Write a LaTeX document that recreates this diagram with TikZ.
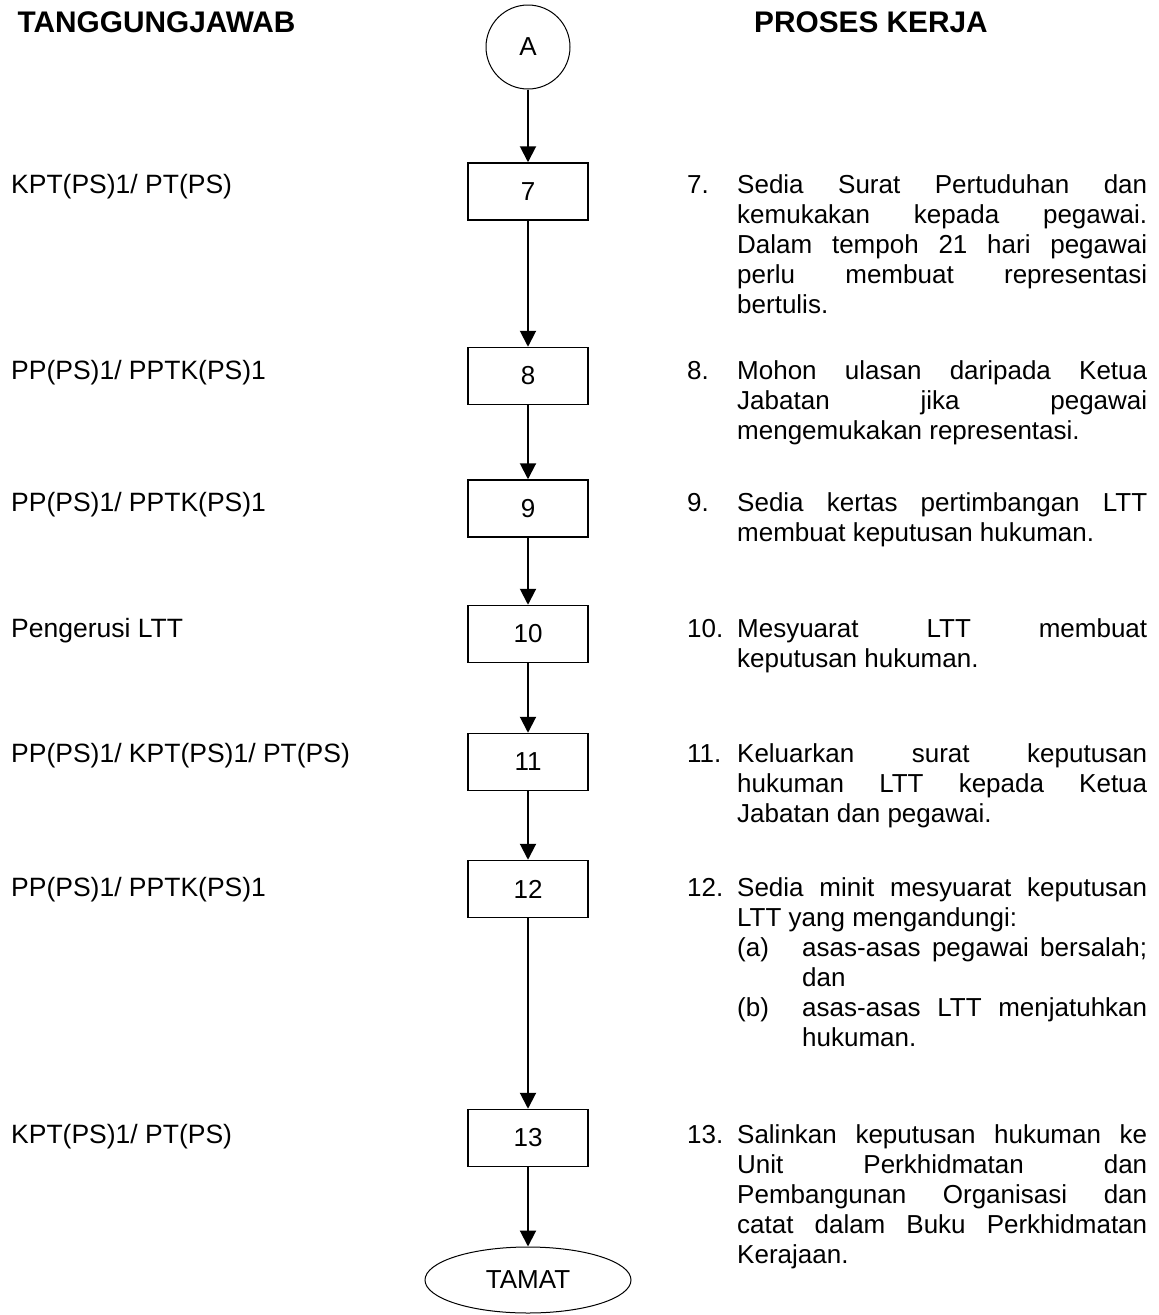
\documentclass[tikz,border=0pt]{standalone}
\usepackage{fontspec}
\setmainfont{Liberation Sans}
\usetikzlibrary{arrows.meta,shapes.geometric}

% Lines of the step descriptions: numbered first line, justified lines,
% left-aligned closing lines and lettered sub-items.
\newcommand\numline[2]{\hbox{\makebox[50pt][l]{#1}\makebox[410pt][s]{#2}}}
\newcommand\fullline[1]{\hbox{\hskip50pt\makebox[410pt][s]{#1}}}
\newcommand\lastline[1]{\hbox{\hskip50pt #1}}
\newcommand\subline[2]{\hbox{\hskip50pt\makebox[65pt][l]{#1}\makebox[345pt][s]{#2}}}
\newcommand\sublast[1]{\hbox{\hskip115pt #1}}
\newcommand\steptext[1]{\vtop{\baselineskip=30pt\lineskiplimit=-100pt\lineskip=0pt #1}}

\tikzset{
  txt/.style={font=\fontsize{26}{30}\selectfont},
  heading/.style={font=\fontsize{29.8}{34}\selectfont\bfseries, anchor=base west, inner sep=0pt},
  who/.style={font=\fontsize{26.5}{30}\selectfont, anchor=base west, inner sep=0pt},
  desc/.style={txt, anchor=base west, inner sep=0pt},
  stepbox/.style={txt, draw, line width=1.5pt, minimum width=120pt, minimum height=57pt, inner sep=0pt},
  connector/.style={txt, draw, circle, line width=1pt, minimum size=84pt, inner sep=0pt},
  terminal/.style={txt, draw, ellipse, line width=1pt, minimum width=206pt, minimum height=66pt, inner sep=0pt},
  flow/.style={line width=2pt, -{Triangle[width=16pt,length=16pt]}}
}

\begin{document}
\begin{tikzpicture}[x=1pt, y=-1pt]
\useasboundingbox (0,0) rectangle (1159,1315);

% column headings
\node[heading] (hleft) at (17.5,32) {TANGGUNGJAWAB};
\node[heading] (hright) at (754,32) {PROSES KERJA};

% flow chart
\node[connector] (A) at (528,47) {A};
\node[stepbox] (s7) at (528,191.5) {7};
\node[stepbox] (s8) at (528,376) {8};
\node[stepbox] (s9) at (528,508.5) {9};
\node[stepbox] (s10) at (528,634) {10};
\node[stepbox] (s11) at (528,762) {11};
\node[stepbox] (s12) at (528,889) {12};
\node[stepbox] (s13) at (528,1138) {13};
\node[terminal] (end) at (528,1280) {TAMAT};

\draw[flow] (A) -- (s7);
\draw[flow] (s7) -- (s8);
\draw[flow] (s8) -- (s9);
\draw[flow] (s9) -- (s10);
\draw[flow] (s10) -- (s11);
\draw[flow] (s11) -- (s12);
\draw[flow] (s12) -- (s13);
\draw[flow] (s13) -- (end);

% responsibilities
\node[who] (w7) at (11,193) {KPT(PS)1/ PT(PS)};
\node[who] (w8) at (11,379) {PP(PS)1/ PPTK(PS)1};
\node[who] (w9) at (11,511.5) {PP(PS)1/ PPTK(PS)1};
\node[who] (w10) at (11,637) {Pengerusi LTT};
\node[who] (w11) at (11,762) {PP(PS)1/ KPT(PS)1/ PT(PS)};
\node[who] (w12) at (11,896) {PP(PS)1/ PPTK(PS)1};
\node[who] (w13) at (11,1143) {KPT(PS)1/ PT(PS)};

% work process
\node[desc] (d7) at (687,193) {\steptext{%
  \numline{7.}{Sedia Surat Pertuduhan dan}
  \fullline{kemukakan kepada pegawai.}
  \fullline{Dalam tempoh 21 hari pegawai}
  \fullline{perlu membuat representasi}
  \lastline{bertulis.}}};
\node[desc] (d8) at (687,379) {\steptext{%
  \numline{8.}{Mohon ulasan daripada Ketua}
  \fullline{Jabatan jika pegawai}
  \lastline{mengemukakan representasi.}}};
\node[desc] (d9) at (687,511.5) {\steptext{%
  \numline{9.}{Sedia kertas pertimbangan LTT}
  \lastline{membuat keputusan hukuman.}}};
\node[desc] (d10) at (687,637) {\steptext{%
  \numline{10.}{Mesyuarat LTT membuat}
  \lastline{keputusan hukuman.}}};
\node[desc] (d11) at (687,762) {\steptext{%
  \numline{11.}{Keluarkan surat keputusan}
  \fullline{hukuman LTT kepada Ketua}
  \lastline{Jabatan dan pegawai.}}};
\node[desc] (d12) at (687,896) {\steptext{%
  \numline{12.}{Sedia minit mesyuarat keputusan}
  \lastline{LTT yang mengandungi:}
  \subline{(a)}{asas-asas pegawai bersalah;}
  \sublast{dan}
  \subline{(b)}{asas-asas LTT menjatuhkan}
  \sublast{hukuman.}}};
\node[desc] (d13) at (687,1143) {\steptext{%
  \numline{13.}{Salinkan keputusan hukuman ke}
  \fullline{Unit Perkhidmatan dan}
  \fullline{Pembangunan Organisasi dan}
  \fullline{catat dalam Buku Perkhidmatan}
  \lastline{Kerajaan.}}};
\end{tikzpicture}
\end{document}
